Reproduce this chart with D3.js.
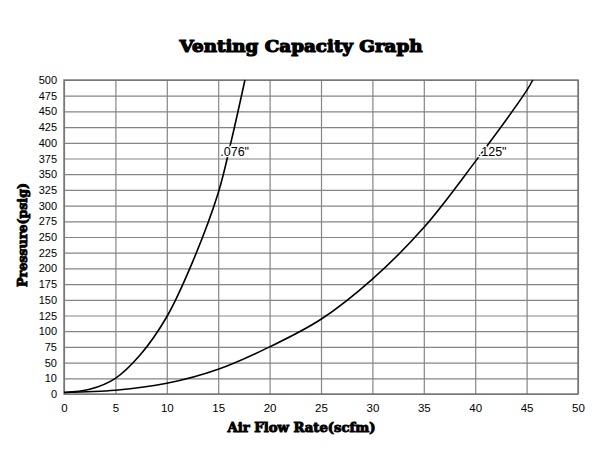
<!DOCTYPE html>
<html>
<head>
<meta charset="utf-8">
<script src="https://cdn.jsdelivr.net/npm/d3@7"></script>
<style>
  html, body { margin: 0; padding: 0; background: #fff; }
  svg { display: block; }
</style>
</head>
<body>
<svg id="chart" width="600" height="450"></svg>
<script>
// ---- Data ----
const title = "Venting Capacity Graph";
const xTitle = "Air Flow Rate(scfm)";
const yTitle = "Pressure(psig)";
const xTicks = [0, 5, 10, 15, 20, 25, 30, 35, 40, 45, 50];
const yTicks = [0, 10, 50, 75, 100, 125, 150, 175, 200, 225, 250, 275, 300, 325, 350, 375, 400, 425, 450, 475, 500];

const s076Name = '.076"';
const s076X = [0, 2.5, 5, 7.4, 10, 12.5, 15, 16.3, 17.6];
const s076Y = [1, 3, 10, 62, 123, 210, 320, 405, 500];

const s125Name = '.125"';
const s125X = [0, 5, 10, 15, 20, 25, 30, 35, 40, 45, 45.6];
const s125Y = [1, 2.4, 6.8, 33, 75, 119, 183, 265, 370, 483, 500];

// label anchor values (x, y in data units)
const s076Label = [15.2, 379];
const s125Label = [40.25, 379];

// ---- Layout ----
const mLeft = 64, mRight = 578, mTop = 80, mBottom = 394;
const svg = d3.select("#chart");

const x = d3.scaleLinear().domain([0, 50]).range([mLeft, mRight]);
// Equally spaced (piecewise linear) pressure axis
const step = (mBottom - mTop) / (yTicks.length - 1);
const y = d3.scaleLinear().domain(yTicks).range(yTicks.map((d, i) => mBottom - i * step));

const gridColor = "#858585";
const fontSans = "'Liberation Sans', Arial, Helvetica, sans-serif";

// Horizontal grid + y labels
const yAxis = d3.axisLeft(y).tickValues(yTicks).tickSize(-(mRight - mLeft)).tickPadding(7).tickFormat(d3.format("d"));
const gy = svg.append("g").attr("transform", `translate(${mLeft},0)`).call(yAxis);
gy.select(".domain").remove();
gy.selectAll("line").attr("stroke", gridColor).attr("stroke-width", 1.2);
gy.selectAll("text").attr("font-family", fontSans).attr("font-size", 11).attr("fill", "#000");

// Vertical grid + x labels
const xAxis = d3.axisBottom(x).tickValues(xTicks).tickSize(-(mBottom - mTop)).tickPadding(10).tickFormat(d3.format("d"));
const gx = svg.append("g").attr("transform", `translate(0,${mBottom})`).call(xAxis);
gx.select(".domain").remove();
gx.selectAll("line").attr("stroke", gridColor).attr("stroke-width", 1.2);
gx.selectAll("text").attr("font-family", fontSans).attr("font-size", 11.5).attr("fill", "#000");

// Frame
svg.append("rect")
  .attr("x", mLeft).attr("y", mTop)
  .attr("width", mRight - mLeft).attr("height", mBottom - mTop)
  .attr("fill", "none").attr("stroke", "#737373").attr("stroke-width", 1.4);

// Curves
const line = d3.line().x(d => x(d[0])).y(d => y(d[1])).curve(d3.curveCatmullRom.alpha(0.5));
const series = [
  { name: s076Name, pts: d3.zip(s076X, s076Y), label: s076Label },
  { name: s125Name, pts: d3.zip(s125X, s125Y), label: s125Label }
];
svg.append("g").selectAll("path").data(series).join("path")
  .attr("d", d => line(d.pts))
  .attr("fill", "none").attr("stroke", "#000").attr("stroke-width", 1.6);

// Curve labels
svg.append("g").selectAll("text").data(series).join("text")
  .attr("x", d => x(d.label[0]))
  .attr("y", d => y(d.label[1]))
  .attr("font-family", fontSans).attr("font-size", 12.5)
  .attr("fill", "#000")
  .attr("stroke", "#fff").attr("stroke-width", 2.5)
  .attr("paint-order", "stroke")
  .text(d => d.name);

// Titles
const heavy = "'DejaVu Serif', 'Liberation Serif', serif";
svg.append("text")
  .attr("x", 301).attr("y", 52)
  .attr("text-anchor", "middle")
  .attr("font-family", heavy).attr("font-weight", "bold").attr("font-size", 17)
  .attr("stroke", "#000").attr("stroke-width", 1.2)
  .attr("textLength", 243).attr("lengthAdjust", "spacingAndGlyphs")
  .text(title);

svg.append("text")
  .attr("x", 301.5).attr("y", 432)
  .attr("text-anchor", "middle")
  .attr("font-family", heavy).attr("font-weight", "bold").attr("font-size", 12.5)
  .attr("stroke", "#000").attr("stroke-width", 0.9)
  .attr("textLength", 148).attr("lengthAdjust", "spacingAndGlyphs")
  .text(xTitle);

svg.append("text")
  .attr("transform", "translate(27,235) rotate(-90)")
  .attr("text-anchor", "middle")
  .attr("font-family", heavy).attr("font-weight", "bold").attr("font-size", 12.5)
  .attr("stroke", "#000").attr("stroke-width", 0.9)
  .attr("textLength", 104).attr("lengthAdjust", "spacingAndGlyphs")
  .text(yTitle);
</script>
</body>
</html>
